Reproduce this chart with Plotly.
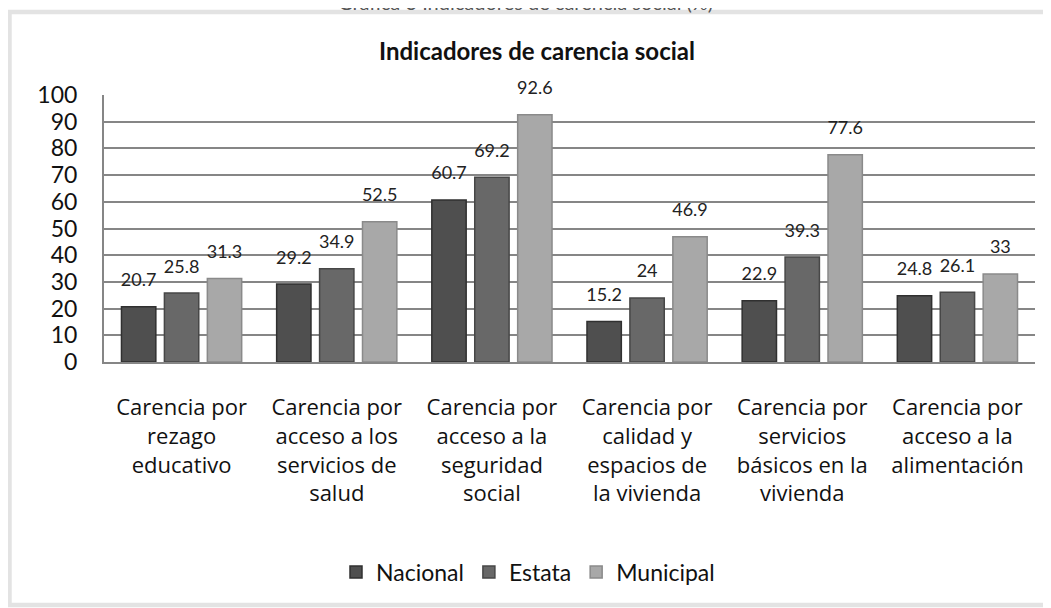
import plotly.graph_objects as go

categories = [
    "Carencia por<br>rezago<br>educativo",
    "Carencia por<br>acceso a los<br>servicios de<br>salud",
    "Carencia por<br>acceso a la<br>seguridad<br>social",
    "Carencia por<br>calidad y<br>espacios de<br>la vivienda",
    "Carencia por<br>servicios<br>básicos en la<br>vivienda",
    "Carencia por<br>acceso a la<br>alimentación",
]
nacional = [20.7, 29.2, 60.7, 15.2, 22.9, 24.8]
estata = [25.8, 34.9, 69.2, 24.0, 39.3, 26.1]
municipal = [31.3, 52.5, 92.6, 46.9, 77.6, 33.0]
series_names = ["Nacional", "Estata", "Municipal"]
series_colors = ["#4f4f4f", "#686868", "#a8a8a8"]
series_lines = ["#303030", "#474747", "#8a8a8a"]

OFF = 8  # page body margin
W, H = 1051 - OFF, 608 - OFF
L, R, T, B = 104 - OFF, 16, 95 - OFF, 608 - 362
pw, ph = W - L - R, H - T - B

def px_x(p):
    return (p - OFF - L) / pw

def px_y(p):
    return (H - B - (p - OFF)) / ph

font_family = "Lato, Open Sans, sans-serif"

fig = go.Figure()
for i, (name, vals, col, lc) in enumerate(zip(series_names, [nacional, estata, municipal], series_colors, series_lines)):
    fig.add_trace(go.Bar(
        name=name, x=categories, y=vals, offsetgroup=str(i),
        marker=dict(color=col, line=dict(color=lc, width=1.5)),
    ))
for i, vals in enumerate([nacional, estata, municipal]):
    fig.add_trace(go.Scatter(
        x=categories, y=vals, offsetgroup=str(i), mode="markers+text",
        marker=dict(size=24, color="rgba(0,0,0,0)"),
        text=[f"{v:g}" for v in vals], textposition="top center",
        textfont=dict(size=18, color="#222222", family=font_family),
        showlegend=False, hoverinfo="skip", cliponaxis=False,
    ))

fig.update_layout(
    width=W, height=H,
    margin=dict(l=L, r=R, t=T, b=B),
    paper_bgcolor="white", plot_bgcolor="white",
    barmode="group", bargap=0.17, bargroupgap=0.2,
    scattermode="group", scattergap=0.17,
    font=dict(family=font_family, color="#111111"),
    showlegend=True,
    legend=dict(orientation="h", x=px_x(528), xanchor="center", y=px_y(572), yanchor="middle",
                font=dict(size=23, color="#111111"), traceorder="normal"),
    xaxis=dict(showline=True, linecolor="#868686", linewidth=2, ticks="",
               tickfont=dict(size=22, color="#111111", family="Open Sans, sans-serif"),
               showgrid=False, ticklabelstandoff=25),
    yaxis=dict(range=[0, 100], dtick=10, showline=True, linecolor="#868686", linewidth=2,
               gridcolor="#868686", gridwidth=1.5, ticks="", tickfont=dict(size=23, color="#111111"),
               zeroline=False, ticklabelstandoff=20),
)

fig.add_shape(type="rect", xref="paper", yref="paper",
              x0=px_x(9.5), x1=px_x(1050), y0=px_y(605), y1=px_y(12),
              line=dict(color="#e3e3e3", width=4.5), layer="below")

fig.add_annotation(text="<b>Indicadores de carencia social</b>", xref="paper", yref="paper",
                   x=px_x(537), y=px_y(50), showarrow=False, xanchor="center", yanchor="middle",
                   font=dict(size=24, color="#111111"))
fig.add_annotation(text="Gráfica 3 Indicadores de carencia social (%)", xref="paper", yref="paper",
                   x=px_x(525), y=px_y(2), showarrow=False, xanchor="center", yanchor="middle",
                   font=dict(size=20, color="#555555"))

fig.write_html("out.html")
